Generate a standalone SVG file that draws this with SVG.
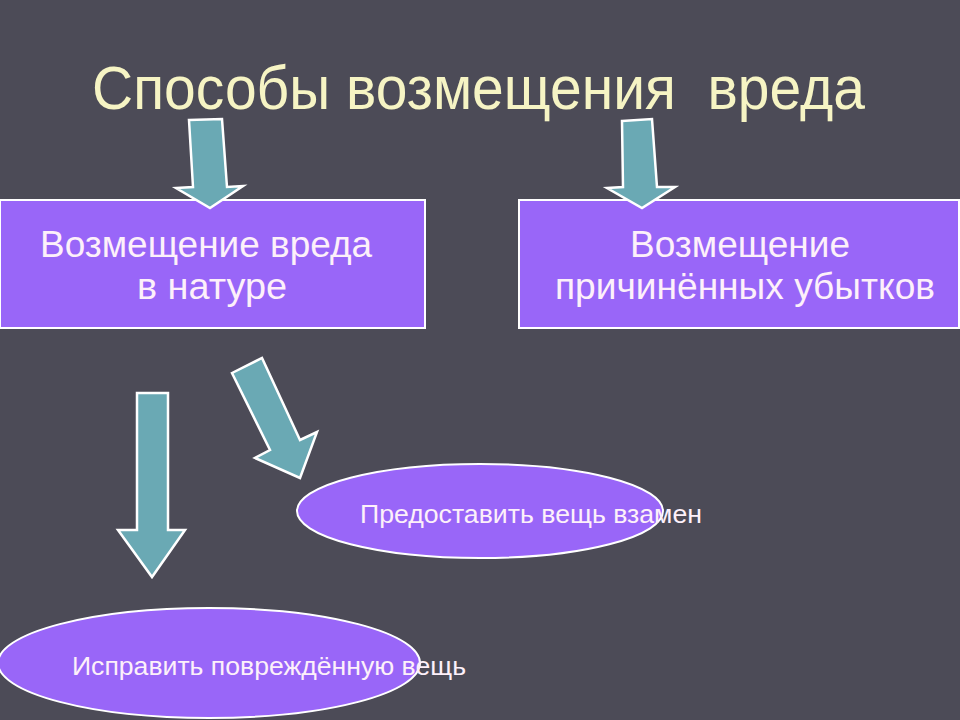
<svg xmlns="http://www.w3.org/2000/svg" width="960" height="720" viewBox="0 0 960 720">
<style>
.arrow{fill:#6aa9b4;stroke:#ffffff;stroke-width:2.5;stroke-linejoin:miter}
.box{fill:#9966f8;stroke:#ffffff;stroke-width:2}
.bt{font-family:"Liberation Sans",Arial,sans-serif;font-size:36px;fill:#fdf0fa;text-anchor:middle}
.et{font-family:"Liberation Sans",Arial,sans-serif;font-size:25px;fill:#fdf0fa}
.title{font-family:"Liberation Sans",Arial,sans-serif;font-size:62px;fill:#f6f4c4}
</style>
<rect width="960" height="720" fill="#4c4b57"/>
<text class="title" x="92" y="109" textLength="773" lengthAdjust="spacingAndGlyphs" xml:space="preserve">Способы возмещения  вреда</text>
<g id="node1">
<rect class="box" x="0" y="200" width="425" height="128"/>
<text class="bt" x="206" y="257" textLength="332" lengthAdjust="spacingAndGlyphs">Возмещение вреда</text>
<text class="bt" x="212" y="299" textLength="150" lengthAdjust="spacingAndGlyphs">в натуре</text>
</g>
<g id="node2">
<rect class="box" x="519" y="200" width="440" height="128"/>
<text class="bt" x="740" y="257" textLength="220" lengthAdjust="spacingAndGlyphs">Возмещение</text>
<text class="bt" x="745" y="299" textLength="380" lengthAdjust="spacingAndGlyphs">причинённых убытков</text>
</g>
<g id="node3">
<ellipse class="box" cx="480" cy="511" rx="183" ry="47"/>
<text class="et" x="360" y="523" textLength="342" lengthAdjust="spacingAndGlyphs">Предоставить вещь взамен</text>
</g>
<g id="node4">
<ellipse class="box" cx="209" cy="663" rx="211" ry="55"/>
<text class="et" x="72" y="675" textLength="394" lengthAdjust="spacingAndGlyphs">Исправить повреждённую вещь</text>
</g>
<g id="connectors">
<polygon class="arrow" points="189,120 222,119 227,187 243,186 210,208 176,188 193,187"/>
<polygon class="arrow" points="622,121 652,119 657,187 675,187 642,208 607,188 623,187"/>
<polygon class="arrow" points="232,373 262,358 300,440 317,432 300,478 255,458 270,450"/>
<polygon class="arrow" points="137,393 168,393 168,530 185,530 152,577 118,530 137,530"/>
</g>
</svg>
